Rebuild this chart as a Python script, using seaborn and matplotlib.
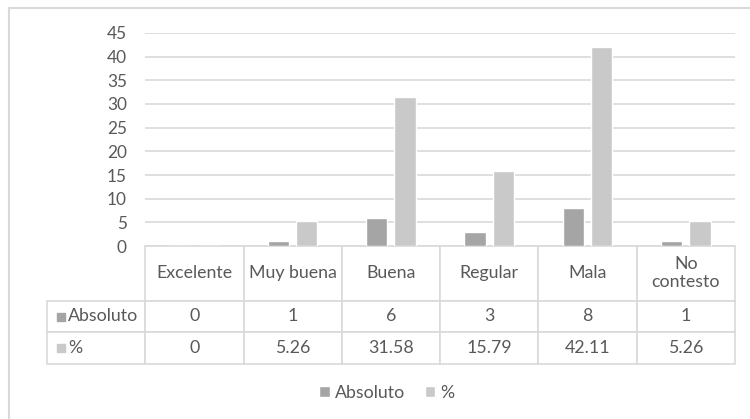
import pandas as pd
import matplotlib.pyplot as plt
import seaborn as sns
from matplotlib.patches import Rectangle
from matplotlib.table import Table

# Datos de la encuesta
categorias = ["Excelente", "Muy buena", "Buena", "Regular", "Mala", "No contesto"]
absoluto = [0, 1, 6, 3, 8, 1]
porcentaje = [0, 5.26, 31.58, 15.79, 42.11, 5.26]
series = ["Absoluto", "%"]
ticks_y = list(range(0, 50, 5))

df = pd.DataFrame({
    "categoria": categorias * 2,
    "serie": [series[0]] * len(absoluto) + [series[1]] * len(porcentaje),
    "valor": absoluto + porcentaje,
})

sns.set_style("white")
plt.rcParams["font.family"] = ["Lato", "DejaVu Sans"]

gris_txt = "#595959"
gris_linea = "#D9D9D9"
colores = ["#A5A5A5", "#C9C9C9"]
fs = 12.8

fig = plt.figure(figsize=(7.5, 4.19), dpi=100)
ax = fig.add_axes([145 / 750, 1 - 246 / 419, 590 / 750, 213 / 419])

sns.barplot(data=df, x="categoria", y="valor", hue="serie", order=categorias,
            hue_order=series, palette=colores, saturation=1, width=0.58, gap=0.25,
            ax=ax)

ax.set_ylim(0, 45)
ax.set_yticks(ticks_y)
ax.yaxis.grid(True, color=gris_linea, lw=1.2)
ax.set_axisbelow(True)
sns.despine(ax=ax, left=True, bottom=True)
ax.tick_params(axis="y", length=0, pad=13, labelsize=12.4, labelcolor=gris_txt)
ax.tick_params(axis="x", bottom=False, labelbottom=False)
ax.set_xlabel("")
ax.set_ylabel("")

# Tabla de datos debajo del grafico (sin celda en la esquina superior izquierda)
filas = [[f"{v:g}" for v in absoluto], [f"{v:g}" for v in porcentaje]]
encabezados = [c.replace("No ", "No\n") for c in categorias]

tabla = Table(ax, bbox=[-98 / 590, -118 / 213, 688 / 590, 118 / 213])
for c, txt in enumerate(encabezados, start=1):
    tabla.add_cell(0, c, 1, 0.55, text=txt, loc="center")
for r, (nombre, fila) in enumerate(zip(series, filas), start=1):
    celda = tabla.add_cell(r, 0, 1, 0.32, text=nombre, loc="left")
    celda.PAD = 21 / 98
    for c, txt in enumerate(fila, start=1):
        tabla.add_cell(r, c, 1, 0.32, text=txt, loc="center")
tabla.auto_set_font_size(False)
tabla.set_fontsize(fs)
for celda in tabla.get_celld().values():
    celda.set_edgecolor(gris_linea)
    celda.set_linewidth(1.2)
    celda.get_text().set_color(gris_txt)
    celda.get_text().set_linespacing(1.15)
ax.add_table(tabla)

# cuadritos de leyenda en la tabla
for i, y0 in enumerate([321, 352]):
    fig.add_artist(Rectangle((57 / 750, 1 - y0 / 419), 8 / 750, 8 / 419,
                             transform=fig.transFigure, color=colores[i]))

sns.move_legend(ax, "center", bbox_to_anchor=(0.41, -0.69), ncol=2, frameon=False,
                title=None, handlelength=0.6, handleheight=0.6, columnspacing=1.1,
                handletextpad=0.3, fontsize=fs, labelcolor=gris_txt)

# marco exterior
fig.add_artist(Rectangle((8.5 / 750, -1), 2, 2 - 8.5 / 419, transform=fig.transFigure,
                         fill=False, edgecolor=gris_linea, lw=1.5))

fig.savefig("out.png", dpi=100)
